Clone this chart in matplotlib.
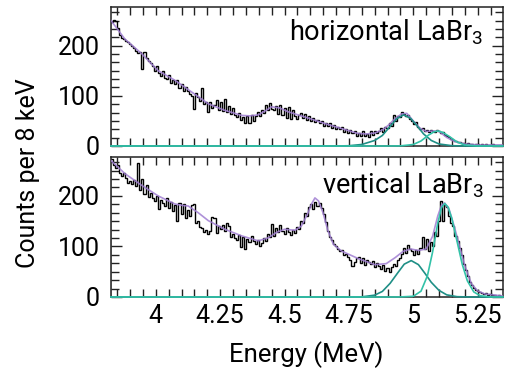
import numpy as np
import matplotlib.pyplot as plt
from matplotlib.ticker import AutoMinorLocator

plt.rcParams['font.family'] = 'Roboto'
plt.rcParams['mathtext.fontset'] = 'custom'
plt.rcParams['mathtext.rm'] = 'Roboto'

# histogramme, 8 keV par canal
bin_start = 3.824
bin_width = 0.008

counts_h = [248, 252, 250, 236, 222, 216, 214, 210, 208, 204,
            200, 195, 190, 186, 188, 154, 188, 176, 170, 165,
            160, 150, 160, 146, 140, 150, 136, 134, 142, 126,
            132, 124, 132, 116, 124, 110, 118, 110, 104, 100,
            74, 106, 98, 90, 116, 84, 88, 68, 88, 76,
            82, 92, 72, 88, 70, 94, 68, 80, 64, 76,
            62, 58, 66, 52, 58, 46, 60, 46, 62, 50,
            60, 68, 60, 72, 66, 82, 72, 86, 74, 72,
            80, 64, 82, 62, 76, 56, 78, 54, 72, 60,
            54, 62, 66, 56, 64, 52, 60, 50, 56, 48,
            52, 46, 50, 40, 46, 40, 46, 36, 42, 34,
            38, 34, 38, 28, 34, 26, 32, 26, 30, 20,
            26, 20, 30, 20, 24, 18, 30, 22, 30, 26,
            30, 36, 28, 38, 36, 46, 40, 62, 50, 60,
            58, 68, 64, 60, 62, 54, 50, 44, 48, 38,
            34, 36, 30, 32, 28, 32, 30, 28, 32, 30,
            26, 28, 22, 20, 18, 14, 12, 10, 8, 8,
            6, 6, 4, 5, 3, 4, 2, 4, 3, 2,
            3, 2, 4, 1, 2, 3, 1, 2, 1, 2, 1]

counts_v = [272, 262, 256, 262, 246, 240, 246, 236, 226, 230,
            224, 232, 220, 266, 212, 234, 204, 222, 198, 206,
            196, 190, 200, 174, 192, 186, 180, 196, 176, 188,
            170, 182, 150, 186, 164, 184, 156, 172, 160, 182,
            184, 146, 150, 138, 136, 128, 132, 124, 130, 158,
            156, 126, 140, 134, 142, 130, 146, 140, 118, 124,
            116, 112, 122, 98, 118, 94, 114, 108, 120, 110,
            104, 112, 100, 106, 116, 110, 124, 118, 144, 120,
            136, 128, 142, 130, 124, 136, 128, 122, 132, 126,
            138, 134, 150, 146, 166, 160, 178, 184, 174, 188,
            180, 186, 176, 164, 148, 130, 118, 112, 104, 100,
            94, 90, 92, 84, 86, 80, 74, 62, 70, 78,
            80, 68, 78, 64, 74, 70, 66, 72, 60, 68,
            62, 56, 64, 52, 58, 50, 60, 66, 62, 74,
            78, 86, 96, 88, 102, 94, 90, 84, 92, 86,
            96, 118, 94, 114, 90, 108, 100, 128, 120, 150,
            190, 150, 182, 178, 160, 146, 140, 120, 110, 96,
            84, 66, 54, 42, 30, 24, 18, 14, 12, 10,
            8, 6, 8, 4, 5, 3, 4, 2, 3, 2, 1]

# ajustement total (violet)
fit_h_e = [3.826, 3.880, 3.945, 4.009, 4.074, 4.138, 4.204, 4.268, 4.333, 4.365,
           4.398, 4.425, 4.450, 4.480, 4.515, 4.590, 4.655, 4.720, 4.785, 4.820,
           4.851, 4.880, 4.905, 4.930, 4.955, 4.975, 5.000, 5.025, 5.050, 5.080,
           5.100, 5.130, 5.160, 5.200, 5.260, 5.348]
fit_h_y = [250, 213, 184, 150, 131, 108, 84, 71, 61, 60,
           62, 70, 78, 76, 68, 56, 45, 35, 25, 24,
           26, 32, 42, 55, 64, 65, 50, 36, 29, 30,
           29, 17, 9, 4, 2, 2]

fit_v_e = [3.826, 3.880, 3.945, 4.009, 4.074, 4.105, 4.126, 4.164, 4.204, 4.268,
           4.333, 4.398, 4.436, 4.470, 4.500, 4.540, 4.565, 4.590, 4.605, 4.618,
           4.632, 4.650, 4.668, 4.690, 4.721, 4.786, 4.850, 4.895, 4.930, 4.960,
           4.990, 5.020, 5.050, 5.075, 5.095, 5.110, 5.122, 5.140, 5.160, 5.180,
           5.200, 5.226, 5.250, 5.278, 5.348]
fit_v_y = [270, 244, 221, 200, 184, 181, 180, 167, 151, 134,
           121, 111, 117, 128, 134, 132, 140, 165, 184, 196,
           190, 166, 132, 104, 91, 76, 64, 66, 78, 90,
           95, 92, 95, 120, 160, 182, 186, 172, 138, 100,
           62, 26, 12, 6, 2]

# composantes gaussiennes (vert)
g1_h_e = [3.826, 4.700, 4.750, 4.800, 4.850, 4.880, 4.910, 4.935, 4.962, 4.990,
          5.015, 5.040, 5.070, 5.100, 5.150, 5.200, 5.348]
g1_h_y = [0, 0, 0.5, 3, 11, 21, 39, 54, 62, 55, 40, 24, 11, 4, 0.6, 0, 0]
g2_h_e = [3.826, 4.900, 4.950, 5.000, 5.030, 5.060, 5.080, 5.096, 5.115, 5.140,
          5.170, 5.200, 5.250, 5.348]
g2_h_y = [0, 0, 0.2, 3, 10, 22, 28, 30, 27, 19, 8, 2, 0.1, 0]

g1_v_e = [3.826, 4.700, 4.800, 4.850, 4.880, 4.910, 4.940, 4.965, 4.992, 5.020,
          5.045, 5.070, 5.100, 5.130, 5.170, 5.220, 5.348]
g1_v_y = [0, 0, 0.3, 3.6, 11, 27, 48, 65, 72, 64, 47, 29, 13, 4.2, 0.6, 0, 0]
g2_v_e = [3.826, 4.900, 4.950, 5.000, 5.030, 5.055, 5.075, 5.095, 5.110, 5.122,
          5.135, 5.150, 5.170, 5.190, 5.210, 5.235, 5.260, 5.300, 5.348]
g2_v_y = [0, 0, 0.1, 1.4, 11.5, 42, 89, 146, 177, 185,
          178, 155, 110, 65, 32, 10, 2.5, 0.1, 0]

labels = ['horizontal LaBr$_\\mathregular{3}$', 'vertical LaBr$_\\mathregular{3}$']

col_fit = '#a07ed2'
col_g1 = '#1f8f86'
col_g2 = '#33c2a8'

fig = plt.figure(figsize=(5.05, 3.71), dpi=100)
ax1 = fig.add_axes([0.2198, 0.6065, 0.776, 0.3747])
ax2 = fig.add_axes([0.2198, 0.1995, 0.776, 0.3774])

panels = [(ax1, counts_h, fit_h_e, fit_h_y, g1_h_e, g1_h_y, g2_h_e, g2_h_y, 0.925),
          (ax2, counts_v, fit_v_e, fit_v_y, g1_v_e, g1_v_y, g2_v_e, g2_v_y, 0.905)]

for k, (ax, cnt, fe, fy, ae, ay, be, by, ty) in enumerate(panels):
    edges = bin_start + bin_width * np.arange(len(cnt) + 1)
    ax.stairs(cnt, edges, color='black', lw=1.0, zorder=2)
    ax.plot(fe, fy, color=col_fit, lw=1.2, alpha=0.85, zorder=3)
    ax.plot(ae, ay, color=col_g1, lw=1.2, zorder=4, clip_on=False)
    ax.plot(be, by, color=col_g2, lw=1.2, zorder=4, clip_on=False)
    ax.set_xlim(3.826, 5.348)
    ax.set_ylim(0, 277)
    ax.set_xticks([4, 4.25, 4.5, 4.75, 5, 5.25])
    ax.set_xticklabels(['4', '4.25', '4.5', '4.75', '5', '5.25'])
    ax.set_yticks([0, 100, 200])
    ax.xaxis.set_minor_locator(AutoMinorLocator(5))
    ax.yaxis.set_minor_locator(AutoMinorLocator(6))
    ax.tick_params(which='both', direction='in', top=True, right=True,
                   labelsize=18, width=1.0, color='#222222')
    ax.tick_params(axis='x', which='major', length=6, pad=5)
    ax.tick_params(axis='y', which='major', length=8, pad=8)
    ax.tick_params(which='minor', length=5.5)
    for s in ax.spines.values():
        s.set_linewidth(1.1)
        s.set_color('#222222')
    ax.text(0.95, ty, labels[k], transform=ax.transAxes, ha='right', va='top',
            fontsize=19.5)

ax1.tick_params(labelbottom=False)

fig.text(0.607, 0.043, 'Energy (MeV)', ha='center', va='center', fontsize=18.5)
fig.text(0.055, 0.534, 'Counts per 8 keV', ha='center', va='center',
         rotation=90, fontsize=18)

fig.savefig('out.png', dpi=100)
